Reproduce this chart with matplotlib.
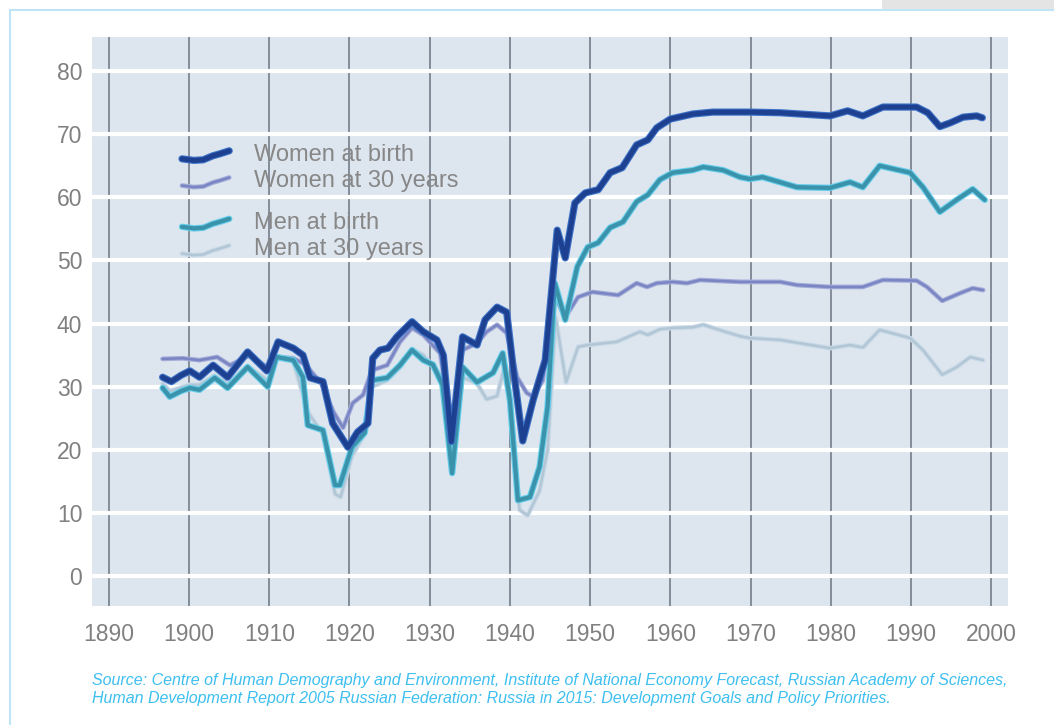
import numpy as np
import matplotlib
matplotlib.use("Agg")
import matplotlib.pyplot as plt
import matplotlib.patheffects as pe
from matplotlib.lines import Line2D
from matplotlib.patches import Rectangle
from matplotlib.legend_handler import HandlerBase

plt.rcParams['font.family'] = ['Liberation Sans', 'DejaVu Sans']

# --- data ---
women_birth_years = [1896.7, 1897.8, 1899.0, 1900.1, 1901.3, 1903.0, 1904.8, 1907.3, 1909.7, 1911.1,
                     1913.0, 1914.2, 1915.1, 1916.7, 1917.9, 1919.8, 1921.0, 1922.3, 1922.9, 1923.8,
                     1924.8, 1925.9, 1927.8, 1929.2, 1930.9, 1931.7, 1932.7, 1934.1, 1935.9, 1936.9,
                     1938.4, 1939.6, 1940.4, 1941.6, 1942.9, 1944.4, 1945.9, 1946.9, 1948.1, 1949.4,
                     1951.0, 1952.5, 1954.0, 1955.8, 1957.2, 1958.3, 1960.0, 1962.8, 1965.3, 1969.9,
                     1973.7, 1979.9, 1982.1, 1984.0, 1986.5, 1990.7, 1992.1, 1993.6, 1994.9, 1996.5,
                     1998.2, 1998.9]
women_birth = [31.5, 30.8, 31.8, 32.5, 31.5, 33.4, 31.5, 35.5, 32.5, 37.1,
               36.1, 35.0, 31.4, 30.8, 24.2, 20.4, 22.8, 24.2, 34.5, 35.8,
               36.1, 37.9, 40.3, 38.7, 37.4, 35.0, 21.3, 37.9, 36.6, 40.6,
               42.6, 41.8, 33.1, 21.4, 27.9, 34.2, 54.8, 50.4, 59.1, 60.7,
               61.2, 63.9, 64.7, 68.3, 69.1, 71.0, 72.4, 73.2, 73.5, 73.5,
               73.4, 72.9, 73.7, 72.9, 74.3, 74.3, 73.4, 71.2, 71.8, 72.7,
               72.9, 72.6]

women_30_years = [1896.7, 1899.2, 1901.3, 1903.5, 1905.1, 1907.6, 1909.8, 1910.9, 1913.0, 1914.5,
                  1916.5, 1918.0, 1919.2, 1920.4, 1921.7, 1922.8, 1924.7, 1926.3, 1927.8, 1929.2,
                  1931.3, 1932.8, 1934.1, 1935.9, 1937.1, 1938.4, 1939.6, 1940.9, 1942.1, 1942.9,
                  1944.1, 1945.4, 1946.9, 1948.5, 1950.3, 1953.5, 1955.8, 1957.1, 1958.3, 1960.3,
                  1962.1, 1963.7, 1968.7, 1973.7, 1975.8, 1979.9, 1984.0, 1986.5, 1990.7, 1992.0,
                  1993.9, 1996.1, 1997.7, 1999.0]
women_30 = [34.4, 34.5, 34.2, 34.7, 33.4, 35.0, 33.0, 34.7, 34.5, 33.5,
            30.5, 26.0, 23.5, 27.4, 28.7, 32.6, 33.4, 37.1, 39.3, 38.2,
            35.3, 23.5, 35.8, 36.9, 38.7, 39.8, 38.5, 31.5, 29.0, 28.4,
            31.0, 44.8, 41.0, 44.2, 45.0, 44.5, 46.4, 45.8, 46.4, 46.6,
            46.4, 46.9, 46.6, 46.6, 46.1, 45.8, 45.8, 46.9, 46.8, 45.8,
            43.6, 44.8, 45.6, 45.3]

men_birth_years = [1896.7, 1897.6, 1899.0, 1900.1, 1901.3, 1903.2, 1904.8, 1907.3, 1909.8, 1910.9,
                   1913.0, 1914.2, 1914.8, 1916.7, 1918.2, 1918.8, 1920.3, 1921.9, 1922.8, 1924.7,
                   1926.3, 1927.8, 1929.2, 1930.4, 1931.6, 1932.8, 1934.1, 1935.9, 1937.9, 1939.1,
                   1940.0, 1941.0, 1942.5, 1943.7, 1944.7, 1945.6, 1946.9, 1948.4, 1949.7, 1951.0,
                   1952.5, 1954.1, 1955.8, 1957.2, 1958.7, 1960.3, 1962.8, 1964.1, 1966.6, 1968.7,
                   1969.9, 1971.5, 1975.8, 1979.9, 1982.4, 1984.0, 1986.1, 1989.9, 1991.5, 1993.6,
                   1995.7, 1997.7, 1999.2]
men_birth = [29.8, 28.4, 29.3, 29.8, 29.5, 31.4, 29.8, 33.1, 30.0, 34.7,
             34.2, 31.5, 23.9, 23.1, 14.4, 14.4, 20.4, 22.7, 31.0, 31.4,
             33.4, 35.8, 34.2, 33.5, 30.3, 16.3, 33.1, 30.7, 32.2, 35.3,
             27.9, 12.0, 12.5, 17.3, 26.8, 46.4, 40.6, 49.0, 52.1, 52.8,
             55.2, 56.1, 59.3, 60.4, 62.8, 63.9, 64.3, 64.8, 64.3, 63.2,
             62.9, 63.2, 61.6, 61.5, 62.4, 61.6, 65.0, 63.9, 61.6, 57.7,
             59.6, 61.3, 59.6]

men_30_years = [1896.7, 1897.6, 1900.1, 1901.3, 1903.2, 1904.8, 1907.3, 1909.8, 1910.9, 1913.0,
                1914.8, 1916.7, 1918.2, 1918.9, 1920.3, 1921.9, 1922.8, 1924.7, 1926.3, 1927.8,
                1929.2, 1931.3, 1932.8, 1934.1, 1935.9, 1937.1, 1938.4, 1939.3, 1940.2, 1941.2,
                1942.2, 1943.7, 1944.7, 1945.7, 1947.0, 1948.5, 1949.7, 1953.3, 1956.2, 1957.2,
                1958.7, 1960.3, 1962.8, 1964.1, 1966.6, 1968.7, 1969.9, 1973.7, 1979.9, 1982.4,
                1984.0, 1986.1, 1989.9, 1991.5, 1993.9, 1995.7, 1997.4, 1999.0]
men_30 = [30.5, 29.3, 30.3, 30.3, 31.8, 30.5, 33.3, 31.0, 34.5, 34.0,
          26.0, 22.5, 13.0, 12.5, 19.0, 22.5, 30.0, 31.0, 33.0, 36.0,
          35.0, 32.0, 17.5, 31.5, 30.5, 28.0, 28.5, 33.0, 25.0, 10.5,
          9.6, 13.5, 20.0, 41.0, 30.7, 36.3, 36.6, 37.1, 38.7, 38.2,
          39.1, 39.3, 39.4, 39.8, 38.8, 38.0, 37.7, 37.4, 36.1, 36.6,
          36.2, 39.0, 37.7, 35.8, 31.9, 33.1, 34.7, 34.2]

decades = list(range(1890, 2001, 10))
y_ticks = list(range(0, 81, 10))
labels = ["Women at birth", "Women at 30 years", "Men at birth", "Men at 30 years"]

source = ("Source: Centre of Human Demography and Environment, Institute of National Economy Forecast, "
          "Russian Academy of Sciences,\nHuman Development Report 2005 Russian Federation: Russia in 2015: "
          "Development Goals and Policy Priorities.")

# --- figure ---
W, H = 1054, 725
fig = plt.figure(figsize=(W / 100, H / 100), dpi=100)
fig.patch.set_facecolor("white")

# frame and grey tab
fig.add_artist(Rectangle((10 / W, -0.1), 1.2, 1.1 - 10 / H, transform=fig.transFigure,
                         fill=False, edgecolor="#bfe4f6", lw=1.5, clip_on=False))
fig.add_artist(Rectangle((882 / W, 1 - 9 / H), 172 / W, 9 / H, transform=fig.transFigure,
                         facecolor="#e4e4e4", edgecolor="none"))

ax = fig.add_axes([92 / W, 1 - 606 / H, 916 / W, 569 / H])
ax.set_facecolor("#dde5ee")
for s in ax.spines.values():
    s.set_visible(False)

ax.set_xlim(1887.9, 2002.1)
ax.set_ylim(-4.75, 85.4)
ax.set_xticks(decades)
ax.set_yticks(y_ticks)
ax.tick_params(length=0, labelsize=16.5, labelcolor="#808080")
ax.tick_params(axis="x", pad=12)
ax.tick_params(axis="y", pad=7)
ax.set_axisbelow(True)
ax.xaxis.grid(True, color="#838d99", lw=1.4)
ax.yaxis.grid(True, color="white", lw=3)

styles = [
    dict(color="#1d4090", lw=3.6, halo="#3d72c6"),   # women at birth
    dict(color="#7a85c3", lw=1.8, halo="#a3acd9"),   # women at 30
    dict(color="#3a92ab", lw=3.0, halo="#64cdea"),   # men at birth
    dict(color="#b2c6d6", lw=1.8, halo="#c9dbe8"),   # men at 30
]
series = [(women_birth_years, women_birth), (women_30_years, women_30),
          (men_birth_years, men_birth), (men_30_years, men_30)]


def effects(st):
    return [pe.Stroke(linewidth=st["lw"] + 1.6, foreground=st["halo"]), pe.Normal()]


for order in [3, 1, 2, 0]:
    st = styles[order]
    xs, ys = series[order]
    ax.plot(xs, ys, color=st["color"], lw=st["lw"], solid_joinstyle="round",
            solid_capstyle="round", zorder=3, path_effects=effects(st))

handles = [Line2D([], [], color=s["color"], lw=s["lw"], solid_capstyle="round",
                  path_effects=effects(s)) for s in styles]


class WavyHandler(HandlerBase):
    def create_artists(self, legend, orig_handle, xdescent, ydescent, width, height, fontsize, trans):
        t = np.array([0.0, 0.25, 0.45, 0.65, 0.8, 1.0])
        f = np.array([0.25, 0.12, 0.17, 0.5, 0.67, 0.92])
        line = Line2D(-xdescent + t * width, -ydescent + height * 0.5 - 2.5 + (f - 0.5) * 8.6)
        line.update_from(orig_handle)
        line.set_transform(trans)
        return [line]


leg_kw = dict(frameon=False, fontsize=17, labelcolor="#878787", handlelength=2.0,
              handletextpad=1.05, labelspacing=0.2, borderpad=0, borderaxespad=0,
              loc="center left", bbox_transform=fig.transFigure,
              handler_map={Line2D: WavyHandler()})
leg1 = ax.legend(handles[:2], labels[:2], bbox_to_anchor=(182 / W, 1 - 168 / H), **leg_kw)
ax.add_artist(leg1)
ax.legend(handles[2:], labels[2:], bbox_to_anchor=(182 / W, 1 - 236 / H), **leg_kw)

fig.text(92 / W, 1 - 689.5 / H, source, fontsize=11.5, style="italic", color="#3dbff0",
         va="center", linespacing=1.18)

fig.savefig("out.png", dpi=100)
